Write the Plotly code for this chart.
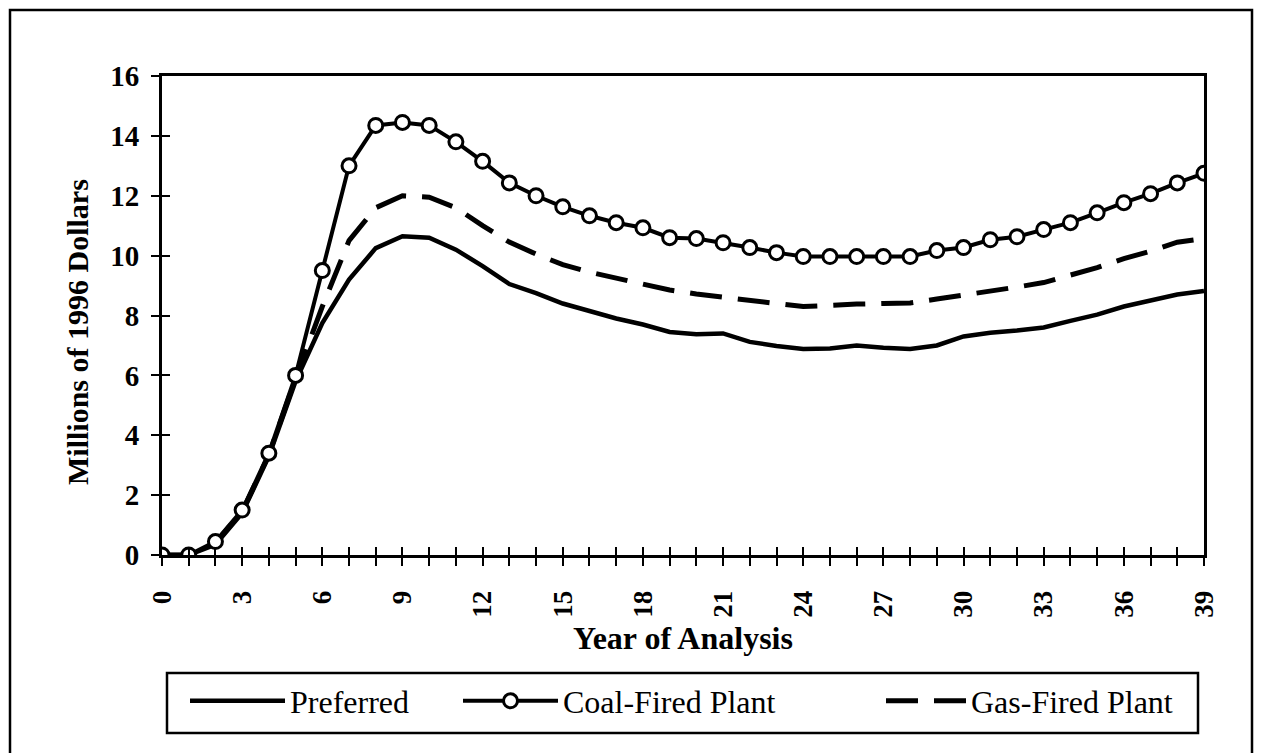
import plotly.graph_objects as go

# Year of analysis (0..39)
years = list(range(40))

# Millions of 1996 dollars per year for each alternative
preferred = [0.0, 0.0, 0.35, 1.4, 3.3, 5.8, 7.75, 9.2, 10.25, 10.65,
             10.6, 10.2, 9.65, 9.05, 8.75, 8.4, 8.15, 7.9, 7.7, 7.45,
             7.37, 7.4, 7.12, 6.98, 6.88, 6.9, 7.0, 6.92, 6.88, 7.0,
             7.3, 7.42, 7.5, 7.6, 7.82, 8.03, 8.3, 8.5, 8.7, 8.82]

coal_fired = [0.0, 0.0, 0.45, 1.5, 3.4, 6.0, 9.5, 13.0, 14.35, 14.45,
              14.35, 13.8, 13.15, 12.43, 12.0, 11.63, 11.33, 11.1, 10.93, 10.6,
              10.57, 10.43, 10.27, 10.1, 9.97, 9.97, 9.97, 9.97, 9.97, 10.17,
              10.27, 10.53, 10.63, 10.87, 11.1, 11.43, 11.77, 12.07, 12.43, 12.75]

gas_fired = [0.0, 0.0, 0.4, 1.45, 3.35, 5.9, 8.3, 10.5, 11.6, 12.0,
             11.95, 11.6, 11.0, 10.45, 10.05, 9.7, 9.45, 9.25, 9.05, 8.85,
             8.72, 8.6, 8.5, 8.4, 8.3, 8.35, 8.38, 8.4, 8.42, 8.55,
             8.68, 8.78, 8.95, 9.1, 9.35, 9.6, 9.9, 10.15, 10.45, 10.57]

x_tick_labels = [str(y) if y % 3 == 0 else "" for y in years]
y_ticks = [0, 2, 4, 6, 8, 10, 12, 14, 16]

SERIF = "Liberation Serif, Times New Roman, serif"
INK = "black"

# Left / right / top / bottom of the plotting area, in pixels
W, H = 1263, 753
L, R, T, B = 162, 1204, 76, 555
pw, ph = R - L, B - T


def px_x(p):
    return (p - L) / pw


def px_y(p):
    return (B - p) / ph


fig = go.Figure()

fig.add_trace(go.Scatter(
    x=years, y=preferred, name="Preferred", mode="lines",
    line=dict(color=INK, width=4.5), legend="legend",
))
fig.add_trace(go.Scatter(
    x=years, y=gas_fired, name="Gas-Fired Plant", mode="lines",
    line=dict(color=INK, width=5, dash="32px,16px"), legend="legend3",
))
fig.add_trace(go.Scatter(
    x=years, y=coal_fired, name="Coal-Fired Plant", mode="lines+markers",
    line=dict(color=INK, width=4),
    marker=dict(symbol="circle", size=14, color="white",
                line=dict(color=INK, width=3)),
    legend="legend2",
))

# transparent helper points so the companion tick axes are laid out
fig.add_trace(go.Scatter(x=[0], y=[0], xaxis="x2", yaxis="y", mode="markers",
                         marker=dict(opacity=0), showlegend=False, hoverinfo="skip"))
fig.add_trace(go.Scatter(x=[0], y=[0], xaxis="x", yaxis="y2", mode="markers",
                         marker=dict(opacity=0), showlegend=False, hoverinfo="skip"))

x_tick_font = dict(family=SERIF, size=27, color=INK, weight="bold")
y_tick_font = dict(family=SERIF, size=29, color=INK, weight="bold")
x_title_font = dict(family=SERIF, size=32, color=INK, weight="bold")
y_title_font = dict(family=SERIF, size=30, color=INK, weight="bold")
legend_font = dict(family=SERIF, size=32, color=INK)


def legend_at(text_left, sample_w):
    # sample_w: length of the legend line sample
    return dict(
        orientation="h", x=px_x(text_left - sample_w - 12), xanchor="left",
        y=px_y(701), yanchor="middle", font=legend_font,
        bgcolor="rgba(0,0,0,0)", borderwidth=0, itemwidth=sample_w,
    )


fig.update_layout(
    width=W, height=H,
    margin=dict(l=L, r=W - R, t=T, b=H - B, autoexpand=False),
    paper_bgcolor="white", plot_bgcolor="white",
    showlegend=True,
    legend=legend_at(292, 95),
    legend2=legend_at(565, 95),
    legend3=legend_at(973, 80),
    xaxis=dict(
        range=[0, 39], tickmode="array", tickvals=years, ticktext=x_tick_labels,
        tickangle=-90, ticks="outside", ticklen=8, tickwidth=2, tickcolor=INK,
        ticklabelstandoff=14,
        showline=True, linewidth=3, linecolor=INK, mirror=True,
        showgrid=False, zeroline=False, tickfont=x_tick_font,
        title=dict(text="Year of Analysis", font=x_title_font, standoff=10),
        automargin=False,
    ),
    yaxis=dict(
        range=[0, 16], tickmode="array", tickvals=y_ticks,
        ticks="outside", ticklen=8, tickwidth=2, tickcolor=INK,
        showline=True, linewidth=3, linecolor=INK, mirror=True,
        showgrid=False, zeroline=False, tickfont=y_tick_font,
        ticklabelstandoff=6,
        automargin=False,
    ),
    # companion axes give the tick marks their inner half, so they cross the axis lines
    xaxis2=dict(
        overlaying="x", anchor="y", side="bottom", range=[0, 39],
        tickmode="array", tickvals=years, ticks="inside", ticklen=8,
        tickwidth=2, tickcolor=INK, showticklabels=False,
        showline=False, showgrid=False, zeroline=False,
    ),
    yaxis2=dict(
        overlaying="y", anchor="x", side="left", range=[0, 16],
        tickmode="array", tickvals=y_ticks, ticks="inside", ticklen=8,
        tickwidth=2, tickcolor=INK, showticklabels=False,
        showline=False, showgrid=False, zeroline=False,
    ),
    annotations=[
        dict(text="Millions of 1996 Dollars", textangle=-90,
             xref="paper", yref="paper", x=px_x(77), y=px_y(332),
             xanchor="center", yanchor="middle", showarrow=False,
             font=y_title_font),
    ],
    shapes=[
        # outer frame of the figure
        dict(type="rect", xref="paper", yref="paper",
             x0=px_x(10), x1=px_x(1252), y0=px_y(770), y1=px_y(10),
             line=dict(color=INK, width=2.5), layer="below"),
        # legend box
        dict(type="rect", xref="paper", yref="paper",
             x0=px_x(167), x1=px_x(1198), y0=px_y(733), y1=px_y(673),
             line=dict(color=INK, width=2.5), layer="below"),
    ],
)

fig.write_html("out.html")
